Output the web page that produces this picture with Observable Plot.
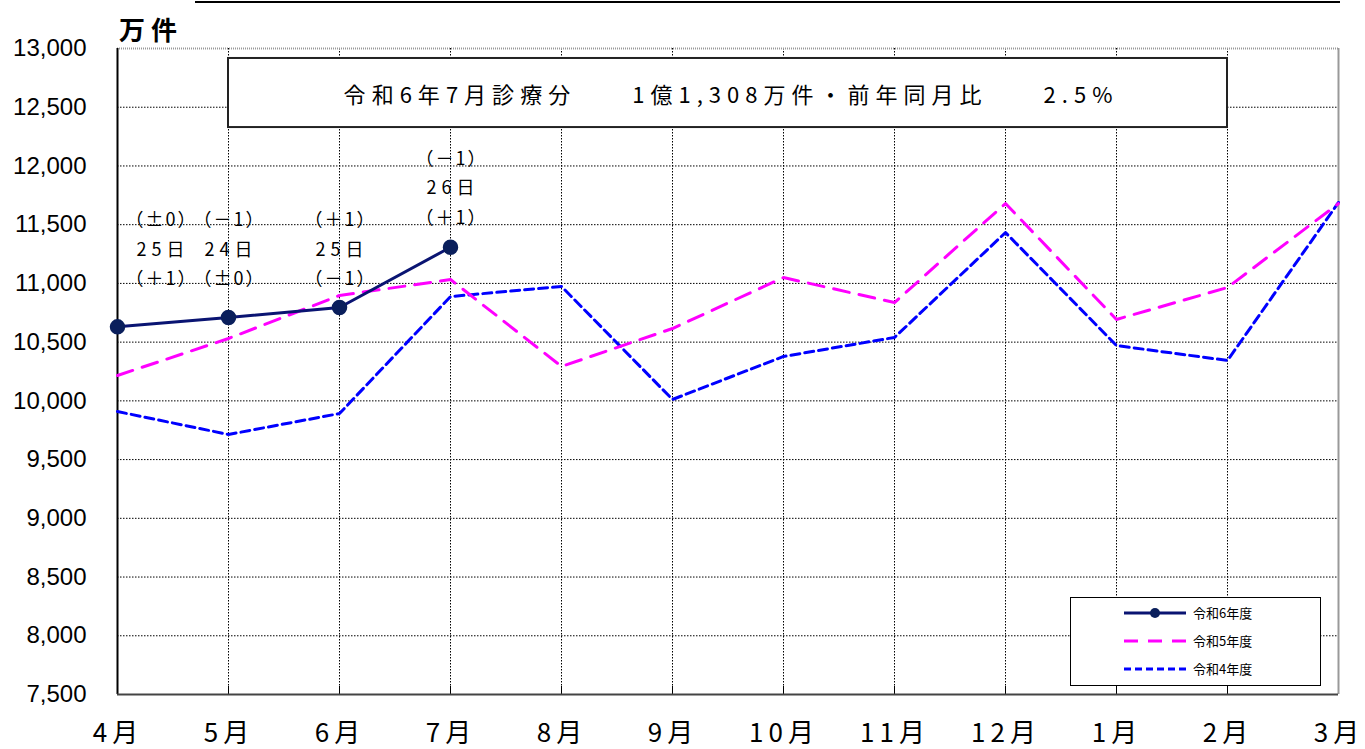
<!DOCTYPE html>
<html><head><meta charset="utf-8">
<script src="https://cdn.jsdelivr.net/npm/d3@7"></script>
<script src="https://cdn.jsdelivr.net/npm/@observablehq/plot@0.6"></script>
<style>
body{margin:0;background:#fff;font-family:"Liberation Sans","Noto Sans CJK JP",sans-serif;}
#wrap{position:relative;width:1365px;height:749px;}
#hdr{position:absolute;left:195px;top:1px;width:1145px;height:2px;background:#000;}
#unit{position:absolute;left:119px;top:10px;font-size:26px;font-family:"Noto Sans CJK JP",sans-serif;font-weight:bold;}
#legend{position:absolute;left:1070px;top:597px;width:249px;height:87px;border:1.5px solid #000;background:#fff;}
</style></head><body>
<div id="wrap"><div id="hdr"></div><div id="unit">万 件</div><div id="chart"></div><div id="legend"></div></div>
<script>
const months = ["4月","5月","6月","7月","8月","9月","10月","11月","12月","1月","2月","3月"];
const r6 = [10630, 10710, 10795, 11308];
const r5 = [10216, 10531, 10897, 11033, 10293, 10616, 11050, 10837, 11680, 10693, 10965, 11680];
const r4 = [9909, 9714, 9892, 10888, 10974, 10012, 10378, 10540, 11433, 10471, 10344, 11689];
const seriesNames = ["令和6年度","令和5年度","令和4年度"];
const yTicks = d3.range(7500, 13001, 500);
// day-count annotations per month column: top row, middle row, bottom row
const annMonth = [0, 1, 2, 3];
const annTop = ["（±0）","（－1）","（＋1）","（－1）"];
const annMid = ["25日","24日","25日","26日"];
const annBot = ["（＋1）","（±0）","（－1）","（＋1）"];
const titleText = "令和6年7月診療分　　1億1,308万件・前年同月比　　2.5%";

const d6 = r6.map((v,i)=>({i, v}));
const d5 = r5.map((v,i)=>({i, v}));
const d4 = r4.map((v,i)=>({i, v}));
const ann = annMonth.map((m,k)=>({m, top:annTop[k], mid:annMid[k], bot:annBot[k],
  base: m === 3 ? 12060 : 11535}));
const step = 251;
const jp = '"Noto Sans CJK JP",sans-serif';
const lat = '"Liberation Sans","Noto Sans CJK JP",sans-serif';

const annMarks = [];
["top","mid","bot"].forEach((k,r)=>{
  [true, false].forEach(first=>{
    const sub = ann.filter(a => (a.m === 0) === first);
    annMarks.push(Plot.text(sub, {x: "m", y: d=>d.base - r*step, text: k, dx: first ? 43 : 0, fontSize: 18, fill: "#000", fontFamily: jp}));
  });
});

const chart = Plot.plot({
  width: 1365, height: 749,
  marginLeft: 117, marginRight: 27, marginTop: 48, marginBottom: 55,
  style: {fontFamily: lat, background: "transparent", overflow: "visible"},
  x: {type: "linear", domain: [0, 11], axis: null},
  y: {domain: [7500, 13000], axis: null},
  marks: [
    Plot.ruleY(yTicks.filter(t=>t>7500 && t<13000), {stroke: "#000", strokeWidth: 1, strokeDasharray: "1.5,1.5"}),
    Plot.ruleX(d3.range(1, 11), {stroke: "#000", strokeWidth: 1, strokeDasharray: "1.5,1.5"}),
    Plot.ruleX(d3.range(1, 11), {y1: 7500, y2: 7568, stroke: "#000", strokeWidth: 1}),
    Plot.ruleY([13000], {stroke: "#999", strokeWidth: 2, strokeDasharray: "1,1"}),
    Plot.ruleX([11], {stroke: "#999", strokeWidth: 2}),
    Plot.ruleX([0], {stroke: "#000", strokeWidth: 2}),
    Plot.ruleY([7500], {stroke: "#444", strokeWidth: 2}),
    Plot.text(yTicks, {x: 0, y: d=>d, text: d=>d3.format(",")(d), textAnchor: "end", dx: -31, fontSize: 24, fill: "#000", fontFamily: lat}),
    Plot.text(months, {x: (d,i)=>i, y: 7500, text: d=>d, dy: 39, dx: -2, fontSize: 26, fill: "#000", fontFamily: jp}),
    Plot.rect([0], {x1: 1, x2: 10, y1: 12327, y2: 12915, fill: "#fff", stroke: "#222", strokeWidth: 2}),
    Plot.text([titleText], {x: 5.5, y: 12600, text: d=>d, fontSize: 22, fill: "#000", fontFamily: jp}),
    Plot.line(d4, {x: "i", y: "v", stroke: "#0000ff", strokeWidth: 3, strokeDasharray: "9,5"}),
    Plot.line(d5, {x: "i", y: "v", stroke: "#ff00ff", strokeWidth: 3, strokeDasharray: "16,10"}),
    Plot.line(d6, {x: "i", y: "v", stroke: "#0a1472", strokeWidth: 3}),
    Plot.dot(d6, {x: "i", y: "v", r: 7, fill: "#0a1f5c", stroke: "#0a1f5c"}),
    ...annMarks
  ]
});
document.getElementById("chart").appendChild(chart);

// widen character spacing by splitting text into tspans with dx gaps
function spaceOut(node, gap) {
  const s = node.textContent;
  const chars = Array.from(s);
  while (node.firstChild) node.removeChild(node.firstChild);
  chars.forEach((c, j) => {
    const t = document.createElementNS("http://www.w3.org/2000/svg", "tspan");
    if (j > 0) t.setAttribute("dx", gap);
    t.textContent = c;
    node.appendChild(t);
  });
}
const monthSet = new Set(months);
const midSet = new Set(annMid);
const parenSet = new Set([...annTop, ...annBot]);
d3.select(chart).selectAll("text").each(function(){
  const s = this.textContent;
  if (monthSet.has(s)) spaceOut(this, 5);
  else if (s === titleText) spaceOut(this, 6);
  else if (midSet.has(s)) spaceOut(this, 5);
  else if (parenSet.has(s)) spaceOut(this, 2);
});

// legend
const lg = d3.select("#legend").append("svg").attr("width", 249).attr("height", 87);
const styles = [
  {stroke: "#0a1472", dash: null, dot: true},
  {stroke: "#ff00ff", dash: "14,10", dot: false},
  {stroke: "#0000ff", dash: "7,4", dot: false}
];
seriesNames.forEach((n, k)=>{
  const y = 15 + k*28;
  lg.append("line").attr("x1", 53).attr("x2", 115).attr("y1", y).attr("y2", y)
    .attr("stroke", styles[k].stroke).attr("stroke-width", 3).attr("stroke-dasharray", styles[k].dash);
  if (styles[k].dot) lg.append("circle").attr("cx", 84).attr("cy", y).attr("r", 5).attr("fill", "#0a1f5c");
  lg.append("text").attr("x", 122).attr("y", y + 5).attr("font-size", 13)
    .attr("font-family", jp).text(n);
});
</script>
</body></html>
